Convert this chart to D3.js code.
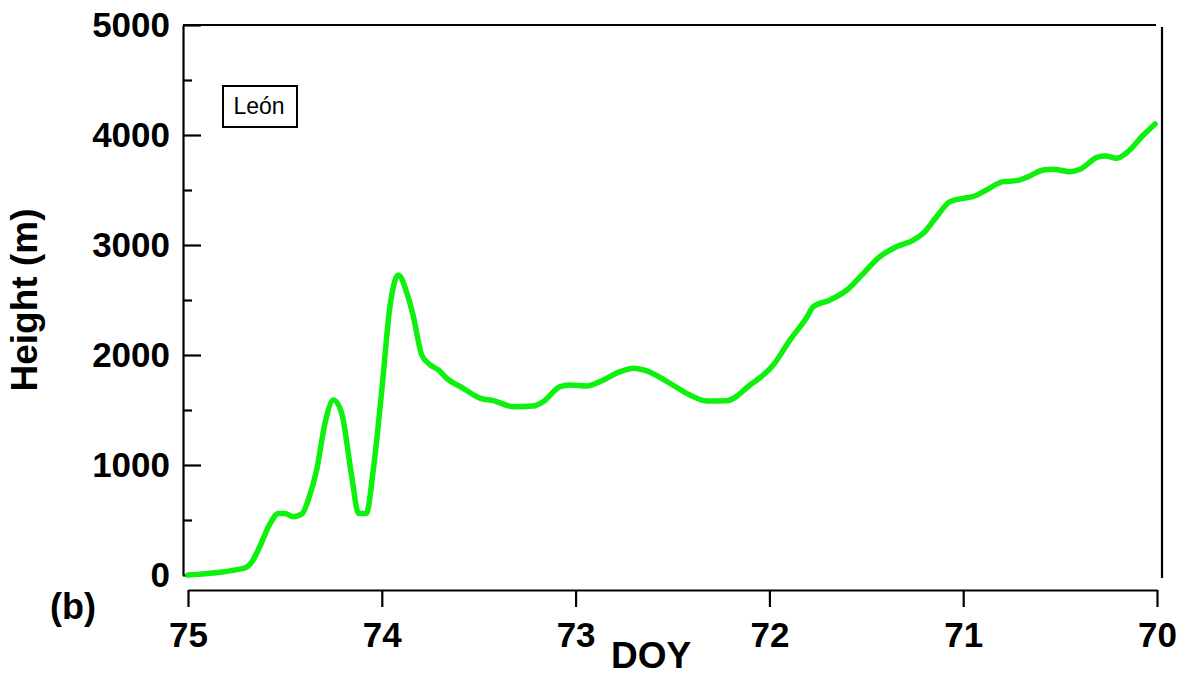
<!DOCTYPE html>
<html>
<head>
<meta charset="utf-8">
<script src="https://cdn.jsdelivr.net/npm/d3@7"></script>
<style>
  body { margin: 0; background: #fff; }
  text { font-family: "Liberation Sans", Arial, sans-serif; }
</style>
</head>
<body>
<div id="chart"></div>
<script>
const width = 1191;
const height = 686;

// DOY (decreasing) and height (m)
const doy = [75.0, 74.715, 74.67, 74.63, 74.58, 74.534, 74.50, 74.457, 74.41, 74.38,
  74.336, 74.293, 74.25, 74.207, 74.155, 74.12, 74.08, 74.044, 74.0, 73.958,
  73.915, 73.87, 73.837, 73.794, 73.75, 73.708, 73.665, 73.58, 73.49, 73.425,
  73.32, 73.218, 73.167, 73.08, 73.03, 72.943, 72.874, 72.77, 72.70, 72.633,
  72.513, 72.41, 72.324, 72.22, 72.10, 71.98, 71.894, 71.81, 71.773, 71.687,
  71.60, 71.515, 71.43, 71.343, 71.257, 71.206, 71.137, 71.068, 71.0, 70.95,
  70.88, 70.793, 70.724, 70.672, 70.586, 70.535, 70.449, 70.397, 70.31, 70.268,
  70.208, 70.156, 70.07, 70.01];
const heightM = [0, 60, 120, 257, 455, 560, 560, 530, 560, 680,
  955, 1380, 1590, 1470, 894, 560, 560, 955, 1680, 2440,
  2727, 2560, 2350, 2000, 1910, 1864, 1788, 1697, 1606, 1585,
  1530, 1536, 1576, 1712, 1727, 1718, 1758, 1848, 1879, 1855,
  1742, 1636, 1582, 1585, 1727, 1909, 2136, 2333, 2439, 2500,
  2591, 2742, 2894, 2985, 3045, 3106, 3258, 3394, 3424, 3439,
  3500, 3576, 3585, 3615, 3682, 3688, 3667, 3688, 3797, 3809,
  3788, 3839, 4000, 4100];

const xTicks = [75, 74, 73, 72, 71, 70];
const yMajor = [0, 1000, 2000, 3000, 4000, 5000];
const yMinor = [500, 1500, 2500, 3500, 4500];

const data = doy.map((d, i) => ({ x: d, y: heightM[i] }));

const svg = d3.select("#chart")
    .append("svg")
    .attr("width", width)
    .attr("height", height);

const x = d3.scaleLinear().domain([75, 70]).range([188, 1157]);
const y = d3.scaleLinear().domain([0, 5000]).range([575, 25]);

// x axis, sitting a bit below the plot
const xAxis = svg.append("g")
    .attr("transform", "translate(0,590)")
    .call(d3.axisBottom(x).tickValues(xTicks).tickSize(17).tickSizeOuter(0).tickPadding(15).tickFormat(d3.format("d")));
xAxis.selectAll("path, line").attr("stroke", "#000").attr("stroke-width", 2.2);
xAxis.selectAll("text")
    .attr("fill", "#000")
    .style("font-size", "35px")
    .style("font-weight", "bold");

// y axis with inward ticks
const yAxis = svg.append("g")
    .attr("transform", "translate(183,0)")
    .call(d3.axisLeft(y).tickValues(yMajor).tickSize(-18).tickSizeOuter(0).tickPadding(13).tickFormat(d3.format("d")));
yAxis.selectAll("path, line").attr("stroke", "#000").attr("stroke-width", 2.2);
yAxis.selectAll("text")
    .attr("fill", "#000")
    .style("font-size", "35px")
    .style("font-weight", "bold");

const yMinorAxis = svg.append("g")
    .attr("transform", "translate(183,0)")
    .call(d3.axisLeft(y).tickValues(yMinor).tickSize(-9).tickSizeOuter(0).tickFormat(""));
yMinorAxis.select("path").remove();
yMinorAxis.selectAll("line").attr("stroke", "#000").attr("stroke-width", 2.2);

// frame: top and right lines
svg.append("line")
    .attr("x1", 183).attr("x2", 1156)
    .attr("y1", y(5000)).attr("y2", y(5000))
    .attr("stroke", "#000").attr("stroke-width", 2.2);
svg.append("line")
    .attr("x1", 1162).attr("x2", 1162)
    .attr("y1", 27).attr("y2", 578)
    .attr("stroke", "#000").attr("stroke-width", 2.2);

// the height curve
const line = d3.line()
    .x(d => x(d.x))
    .y(d => y(d.y))
    .curve(d3.curveMonotoneX);

svg.append("path")
    .datum(data)
    .attr("d", line)
    .attr("fill", "none")
    .attr("stroke", "#0ef00e")
    .attr("stroke-width", 5.5)
    .attr("stroke-linejoin", "round")
    .attr("stroke-linecap", "round");

// station label
svg.append("rect")
    .attr("x", 223).attr("y", 86)
    .attr("width", 74).attr("height", 41)
    .attr("fill", "#fff")
    .attr("stroke", "#000")
    .attr("stroke-width", 2);
svg.append("text")
    .attr("x", 259).attr("y", 114)
    .attr("text-anchor", "middle")
    .style("font-size", "23px")
    .text("León");

// axis titles
svg.append("text")
    .attr("x", 651).attr("y", 668)
    .attr("text-anchor", "middle")
    .style("font-size", "37px")
    .style("font-weight", "bold")
    .text("DOY");

svg.append("text")
    .attr("transform", "translate(37,300) rotate(-90)")
    .attr("text-anchor", "middle")
    .style("font-size", "37px")
    .style("font-weight", "bold")
    .text("Height (m)");

svg.append("text")
    .attr("x", 50).attr("y", 619)
    .style("font-size", "36px")
    .style("font-weight", "bold")
    .text("(b)");
</script>
</body>
</html>
